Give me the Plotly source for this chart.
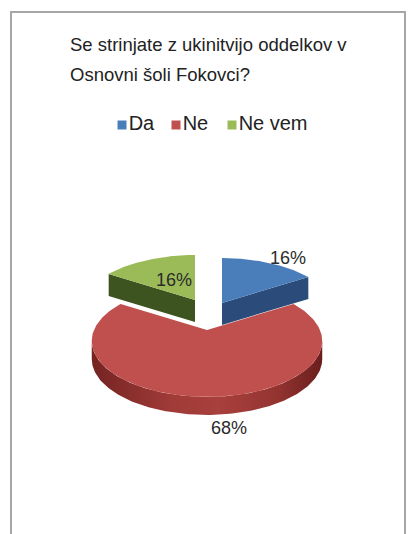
import numpy as np
import plotly.graph_objects as go

# ---- data ----
categories = ["Da", "Ne", "Ne vem"]
values = [16, 68, 16]
title_lines = ["Se strinjate z ukinitvijo oddelkov v", "Osnovni šoli Fokovci?"]

# ---- style ----
top_colors = ["#4a7ebb", "#c0504d", "#9bbb59"]
side_colors = ["#2b4b7a", "#8e2e2c", "#3d5320"]
FONT = "Liberation Sans, Arial, sans-serif"
W, H = 411, 534
A, B, K = 113.0, 53.8, 0.196   # perspective ellipse parameters
DEPTH = 22
apex = [(222, 303), (207, 330), (195, 300)]      # exploded apex of each slice (px)
label_off = [(66, -45), (22, 98), (-21, -20)]    # label position relative to apex

fig = go.Figure()

total = float(sum(values))
starts = np.cumsum([0] + values[:-1]) / total * 360.0
ends = np.cumsum(values) / total * 360.0


def pt(cx, cy, ang):
    a = np.radians(ang)
    u, v = np.sin(a), np.cos(a)
    d = 1 + K * v
    return cx + A * u / d, cy - B * v / d


def poly(xs, ys, color=None, grad=None):
    kw = dict(fill="toself", mode="lines", line=dict(width=0),
              showlegend=False, hoverinfo="skip")
    if grad is not None:
        kw["fillgradient"] = grad
    else:
        kw["fillcolor"] = color
    fig.add_trace(go.Scatter(x=list(xs), y=list(ys), **kw))


# silhouette angles of the perspective ellipse (widest points)
sil = np.degrees(np.arccos(-K))

order = [0, 2, 1]   # back slices first, front slice last
for i in order:
    cx, cy = apex[i]
    s, e = starts[i], ends[i]
    if i == 0:      # radial face at the end edge
        ex, ey = pt(cx, cy, e)
        poly([cx, ex, ex, cx, cx], [cy, ey, ey + DEPTH, cy + DEPTH, cy], side_colors[i])
    if i == 2:      # radial face at the start edge
        sx, sy = pt(cx, cy, s)
        poly([cx, sx, sx, cx, cx], [cy, sy, sy + DEPTH, cy + DEPTH, cy], side_colors[i])
    if i == 1:      # front outer wall
        a0, a1 = max(s, sil), min(e, 360 - sil)
        t = np.linspace(a0, a1, 160)
        xt, yt = pt(cx, cy, t)
        xs = np.concatenate([xt, xt[::-1], xt[:1]])
        ys = np.concatenate([yt, (yt + DEPTH - 4)[::-1], yt[:1]])
        poly(xs, ys, grad=dict(type="horizontal",
                               colorscale=[[0, "#742422"], [0.35, "#a03b38"], [0.55, "#a8403d"],
                                           [0.8, "#943431"], [1, "#6a1f1d"]]))
    t = np.linspace(s, e, 200)
    xa, ya = pt(cx, cy, t)
    poly(np.concatenate([[cx], xa, [cx]]), np.concatenate([[cy], ya, [cy]]), top_colors[i])

# percentage labels
for i, v in enumerate(values):
    cx, cy = apex[i]
    pct = round(v / total * 100)
    fig.add_annotation(x=cx + label_off[i][0], y=cy + label_off[i][1],
                       text=f"{pct}%", showarrow=False,
                       font=dict(family=FONT, size=18, color="#2b2b2b"))

# legend (manual)
leg_x = [122, 176, 232]
leg_y = 125
for i, c in enumerate(categories):
    fig.add_trace(go.Scatter(x=[leg_x[i]], y=[leg_y], mode="markers+text",
                             marker=dict(symbol="square", size=9, color=top_colors[i]),
                             text=[c], textposition="middle right",
                             textfont=dict(family=FONT, size=20, color="#222222"),
                             showlegend=False, hoverinfo="skip"))

# title (two lines)
title_y = [45, 74]
for line, ty in zip(title_lines, title_y):
    fig.add_annotation(x=68 / W, y=1 - ty / H, xref="paper", yref="paper",
                       xanchor="left", yanchor="middle", align="left",
                       text=line, showarrow=False,
                       font=dict(family=FONT, size=18.5, color="#222222"))

# frame
fig.add_shape(type="rect", xref="paper", yref="paper",
              x0=11 / W, x1=405 / W, y0=-0.05, y1=1 - 12 / H,
              line=dict(color="#a6a6a6", width=2))

fig.update_layout(
    width=W, height=H, margin=dict(l=0, r=0, t=0, b=0),
    paper_bgcolor="white", plot_bgcolor="white",
    xaxis=dict(range=[0, W], visible=False, fixedrange=True),
    yaxis=dict(range=[H, 0], visible=False, fixedrange=True),
)

fig.write_html("out.html", config={"displayModeBar": False},
               post_script="document.body.style.margin='0px';")
